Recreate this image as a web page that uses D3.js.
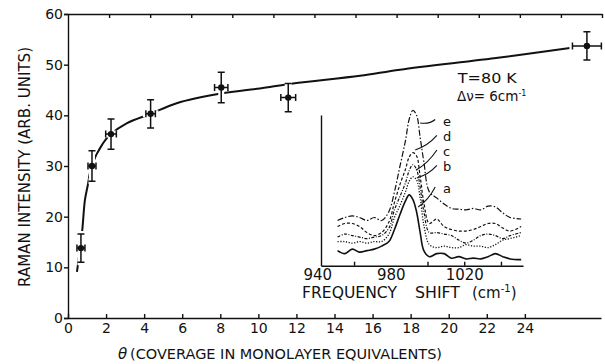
<!DOCTYPE html>
<html>
<head>
<meta charset="utf-8">
<script src="https://cdn.jsdelivr.net/npm/d3@7"></script>
<style>
  body { margin: 0; background: #fff; }
  svg { display: block; }
  text { font-family: "DejaVu Sans", sans-serif; fill: #111; }
</style>
</head>
<body>
<div id="chart"></div>
<script>
// measured points (theta, Raman intensity) with error bars
const coverage = [0.68, 1.26, 2.26, 4.34, 8.05, 11.57, 27.26];
const intensity = [13.8, 30.0, 36.3, 40.3, 45.5, 43.5, 53.7];
const coverageErr = [0.21, 0.21, 0.28, 0.25, 0.35, 0.39, 0.76];
const intensityErr = [2.8, 3.0, 3.0, 2.8, 3.0, 2.8, 2.8];

// hand drawn guide curve through the points
const fitX = [0.47, 0.74, 0.89, 1.05, 1.24, 1.84, 2.26, 3.08, 4.34, 5.71, 8.04, 10.08, 11.82, 15.34, 17.44, 22.69, 26.37];
const fitY = [9.1, 17.0, 23.3, 26.4, 30.0, 34.5, 36.3, 38.4, 40.3, 42.4, 44.3, 45.3, 46.3, 47.8, 49.0, 51.4, 53.3];

const xTicks = [0, 2, 4, 6, 8, 10, 12, 14, 16, 18, 20, 22, 24];
const xTopTicks = [2, 4, 6, 8, 10, 12, 14, 16, 18, 20, 22, 24, 26];
const yTicks = [0, 10, 20, 30, 40, 50, 60];

// inset: spectra a-e (arb. units)
const shift = [951, 955, 959, 963, 967, 971, 975, 979, 982, 985, 988, 990, 992, 994, 996, 998, 1001, 1005, 1009, 1013, 1017, 1021, 1025, 1029, 1033, 1037, 1041, 1045, 1051];
const specA = [10, 8, 11, 9, 10, 11, 13, 16, 24, 34, 43, 47, 44, 36, 22, 10, 6, 8, 8, 5, 6, 4.5, 5, 4.5, 6, 8, 6, 4.5, 4];
const specB = [16, 16, 15, 16, 15, 16, 16, 21, 32, 40, 49, 56, 59, 57, 45, 27, 14, 12, 13, 12, 12, 14, 13, 13, 12, 14, 17, 18, 20];
const specC = [19, 21, 20, 19, 18, 19, 20, 25, 37, 46, 55, 63, 67, 64, 52, 36, 22, 22, 21, 20, 17, 15, 17, 20, 21, 20, 18, 20, 22];
const specD = [26, 28, 28, 26, 22, 20, 22, 29, 42, 54, 64, 72, 75, 73, 59, 42, 28, 31, 26, 24, 23, 23, 24, 26, 28, 28, 25, 23, 26];
const specE = [30, 32, 33, 32, 30, 32, 30, 36, 49, 66, 83, 97, 103, 100, 85, 69, 49, 45, 41, 38, 37.5, 37, 38, 37, 39.5, 39, 35, 32, 31];
const specNames = ["a", "b", "c", "d", "e"];
const insetTickLabels = [940, 980, 1020];
const insetTicks = [960, 1000, 1020, 1040];

const W = 605, H = 364;

const svg = d3.select("#chart").append("svg")
  .attr("width", W).attr("height", H);
svg.append("rect").attr("width", W).attr("height", H).attr("fill", "#fff");

const x = d3.scaleLinear().domain([0, 28]).range([68, 601]);
const xTop = d3.scaleLinear().domain([0, 26]).range([68, 602]);
const y = d3.scaleLinear().domain([0, 60]).range([318, 14]);

function styleAxis(g, size) {
  g.selectAll("path,line").attr("stroke", "#111").attr("stroke-width", 1.4);
  g.selectAll("text").attr("font-size", size).attr("fill", "#111")
    .attr("font-family", "DejaVu Sans, sans-serif");
}

// axes
svg.append("g").attr("transform", "translate(0,318)")
  .call(d3.axisBottom(x).tickValues(xTicks).tickSizeInner(-4).tickSizeOuter(0).tickPadding(5))
  .call(g => styleAxis(g, 14));
svg.append("g").attr("transform", "translate(0,14)")
  .call(d3.axisTop(xTop).tickValues(xTopTicks).tickSizeInner(-4).tickSizeOuter(0).tickFormat(""))
  .call(g => styleAxis(g, 14));
svg.append("g").attr("transform", "translate(68,0)")
  .call(d3.axisLeft(y).tickValues(yTicks).tickSize(4).tickPadding(1))
  .call(g => styleAxis(g, 14));

// axis titles
svg.append("text")
  .attr("transform", "translate(30,167) rotate(-90)")
  .attr("text-anchor", "middle").attr("font-size", 15)
  .attr("textLength", 240).attr("lengthAdjust", "spacingAndGlyphs")
  .text("RAMAN INTENSITY (ARB. UNITS)");
svg.append("text").attr("x", 118).attr("y", 359)
  .attr("font-size", 15).attr("font-style", "italic").text("θ");
svg.append("text").attr("x", 130).attr("y", 359)
  .attr("font-size", 14).attr("textLength", 312).attr("lengthAdjust", "spacingAndGlyphs")
  .text("(COVERAGE IN MONOLAYER EQUIVALENTS)");

// guide curve
const fitPts = fitX.map((d, i) => [d, fitY[i]]);
svg.append("path")
  .attr("d", d3.line().x(d => x(d[0])).y(d => y(d[1])).curve(d3.curveCatmullRom)(fitPts))
  .attr("fill", "none").attr("stroke", "#111").attr("stroke-width", 2);

// error bars
const pts = coverage.map((d, i) => ({ x: d, y: intensity[i], ex: coverageErr[i], ey: intensityErr[i] }));
const cap = 3.5;
function errPath(d) {
  const cx = x(d.x), cy = y(d.y);
  const y0 = y(d.y - d.ey), y1 = y(d.y + d.ey);
  const x0 = x(d.x - d.ex), x1 = x(d.x + d.ex);
  return `M${cx},${y0}V${y1}M${cx - cap},${y0}H${cx + cap}M${cx - cap},${y1}H${cx + cap}` +
    `M${x0},${cy}H${x1}M${x0},${cy - cap}V${cy + cap}M${x1},${cy - cap}V${cy + cap}`;
}
svg.append("g").selectAll("path").data(pts).join("path")
  .attr("d", errPath).attr("fill", "none").attr("stroke", "#fff").attr("stroke-width", 6);
svg.append("g").selectAll("path").data(pts).join("path")
  .attr("d", errPath).attr("fill", "none").attr("stroke", "#111").attr("stroke-width", 1.5);
svg.append("g").selectAll("circle").data(pts).join("circle")
  .attr("cx", d => x(d.x)).attr("cy", d => y(d.y)).attr("r", 3.2).attr("fill", "#111");

// conditions
svg.append("text").attr("x", x(20.48)).attr("y", y(46.4))
  .attr("font-size", 13.5).attr("textLength", 59).attr("lengthAdjust", "spacingAndGlyphs")
  .text("T=80 K");
const cond = svg.append("text").attr("x", x(20.43)).attr("y", y(42.9)).attr("font-size", 13.5);
cond.append("tspan").text("Δν= 6cm");
cond.append("tspan").attr("font-size", 8).attr("dy", -5).text("-1");

// ---- inset ----
const fx = d3.scaleLinear().domain([942, 1052]).range([321, 523]);
const fy = d3.scaleLinear().domain([0, 100]).range([265.7, 115]);

const inset = svg.append("g");
inset.append("g").attr("transform", `translate(0,${fy(0)})`)
  .call(d3.axisBottom(fx).tickValues(insetTicks).tickSizeInner(-4).tickSizeOuter(0).tickFormat(""))
  .call(g => styleAxis(g, 14));
inset.append("g").attr("transform", `translate(0,${fy(0)})`)
  .call(d3.axisBottom(fx).tickValues(insetTickLabels).tickSize(0).tickPadding(3.5).tickFormat(d3.format("d")))
  .call(g => g.select(".domain").remove())
  .call(g => styleAxis(g, 15));
inset.append("g").attr("transform", `translate(${fx(942)},0)`)
  .call(d3.axisLeft(fy).tickValues([]).tickSizeOuter(0))
  .call(g => styleAxis(g, 14));

inset.append("text").attr("x", 302).attr("y", 298).attr("font-size", 15)
  .attr("textLength", 95).attr("lengthAdjust", "spacingAndGlyphs").text("FREQUENCY");
inset.append("text").attr("x", 415).attr("y", 298).attr("font-size", 15)
  .attr("textLength", 45).attr("lengthAdjust", "spacingAndGlyphs").text("SHIFT");
const unit = inset.append("text").attr("x", 472).attr("y", 298).attr("font-size", 15);
unit.append("tspan").text("(cm");
unit.append("tspan").attr("font-size", 10).attr("dy", -6).text("-1");
unit.append("tspan").attr("dy", 6).text(")");

const spectra = [specA, specB, specC, specD, specE];
const dashes = [null, "1.2,1.6", "3,1.5,1,1.5", "3,2", "6,2,1.5,2"];
const widths = [1.6, 1.3, 1.2, 1.2, 1.2];
const specLine = d3.line().x((d, i) => fx(shift[i])).y(d => fy(d)).curve(d3.curveCatmullRom);
inset.append("g").selectAll("path").data(spectra).join("path")
  .attr("d", specLine)
  .attr("fill", "none").attr("stroke", "#111")
  .attr("stroke-width", (d, i) => widths[i])
  .attr("stroke-dasharray", (d, i) => dashes[i]);

// curve labels with leader lines (shift, intensity)
const leaderFrom = [[994.9, 39], [994.2, 58.2], [993.8, 63.5], [993.3, 76.8], [996, 94.7]];
const leaderTo = [[1004.2, 52.2], [1005.1, 66.5], [1005.1, 76.8], [1005.1, 86.5], [1004.2, 97]];
const labelAt = [[1008.5, 48.2], [1008.5, 63], [1008.5, 73], [1008.5, 83], [1008.5, 93]];
inset.append("g").selectAll("path").data(specNames).join("path")
  .attr("d", (d, i) => {
    const [a0, b0] = leaderFrom[i], [a1, b1] = leaderTo[i];
    const mx = fx((a0 + a1) / 2 + 1), my = fy((b0 + b1) / 2 - 2);
    return `M${fx(a0)},${fy(b0)}Q${mx},${my} ${fx(a1)},${fy(b1)}`;
  })
  .attr("fill", "none").attr("stroke", "#111").attr("stroke-width", 1.1);
inset.append("g").selectAll("text").data(specNames).join("text")
  .attr("x", (d, i) => fx(labelAt[i][0])).attr("y", (d, i) => fy(labelAt[i][1]))
  .attr("font-size", 13).text(d => d);
</script>
</body>
</html>
